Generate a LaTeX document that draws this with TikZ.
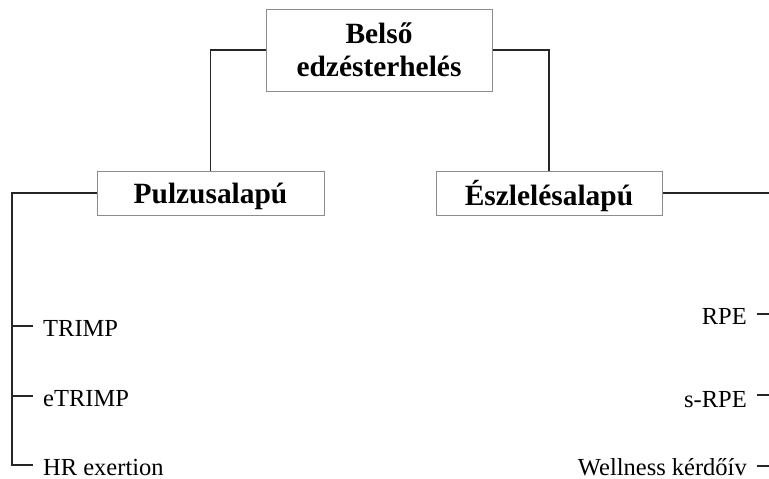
\documentclass[tikz,border=0pt]{standalone}
\usepackage{fontspec}
\setmainfont{Liberation Serif}
\begin{document}
\begin{tikzpicture}[x=1pt,y=-1pt,
  box/.style={draw=black!45, line width=1pt, fill=white, inner sep=0pt, align=center,
    font=\bfseries\fontsize{29.4}{33}\selectfont},
  item/.style={inner sep=0pt, font=\fontsize{24.5}{29}\selectfont},
  conn/.style={draw=black!85, line width=1.6pt}]
\useasboundingbox (0,0) rectangle (769,479);
\node[box, minimum width=226pt, minimum height=82pt] (top) at (379,50) {Belső\\edzésterhelés};
\node[box, minimum width=227pt, minimum height=44pt, text depth=0pt] (pulz) at (210.5,193) {Pulzusalapú};
\node[box, minimum width=226pt, minimum height=44pt, text depth=0pt] (eszl) at (549,193) {Észlelésalapú};
\draw[conn] (top.west) -| (pulz.north);
\draw[conn] (top.east) -| (eszl.north);
% left branch
\coordinate (lc) at (12,193);
\coordinate (l1) at (12,326);
\coordinate (l2) at (12,396);
\coordinate (l3) at (12,465);
\coordinate (t1) at (33,326);
\coordinate (t2) at (33,396);
\coordinate (t3) at (33,465);
\node[item, anchor=base west] (trimp) at (43,336) {TRIMP};
\node[item, anchor=base west] (etrimp) at (43,406) {eTRIMP};
\node[item, anchor=base west] (hr) at (43,475) {HR exertion};
\draw[conn] (pulz.west) -- (lc) -- (l3) -- (t3);
\draw[conn] (l1) -- (t1);
\draw[conn] (l2) -- (t2);
% right branch
\coordinate (rc) at (769,193);
\draw[conn] (eszl.east) -- (rc);
\node[item, anchor=base east] (rpe) at (747,324) {RPE};
\node[item, anchor=base east] (srpe) at (747,407) {s-RPE};
\node[item, anchor=base east] (well) at (747,475) {Wellness kérdőív};
\coordinate (r1a) at (757,314);
\coordinate (r1b) at (769,314);
\coordinate (r2a) at (757,395);
\coordinate (r2b) at (769,395);
\coordinate (r3a) at (757,466);
\coordinate (r3b) at (769,466);
\draw[conn] (r1a) -- (r1b);
\draw[conn] (r2a) -- (r2b);
\draw[conn] (r3a) -- (r3b);
\end{tikzpicture}
\end{document}
